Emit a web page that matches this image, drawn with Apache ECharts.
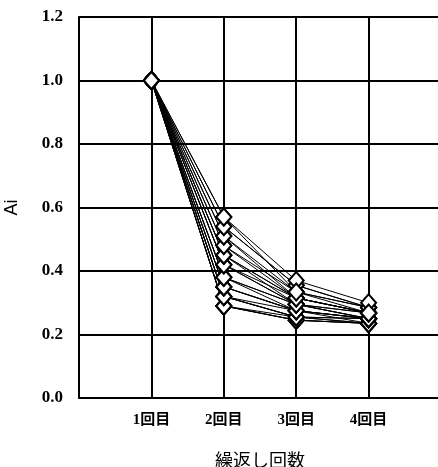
<!DOCTYPE html>
<html><head><meta charset="utf-8">
<script src="https://cdn.jsdelivr.net/npm/echarts@6/dist/echarts.min.js"></script>
<style>html,body{margin:0;padding:0;background:#fff}#c{width:438px;height:467px}</style>
</head><body><div id="c"></div>
<script>
// tick labels for the x positions 0..5
const xTickLabels = ['', '1回目', '2回目', '3回目', '4回目', ''];
const xPositions = [1, 2, 3, 4];
// values at 1回目 (all 1.0), 2回目, 3回目, 4回目 for each specimen (drawing order)
const v1 = [1.0,1.0,1.0,1.0,1.0,1.0,1.0,1.0,1.0,1.0,1.0,1.0,1.0,1.0,1.0,1.0,1.0,1.0,1.0,1.0,1.0,1.0,1.0,1.0,1.0,1.0,1.0,1.0];
const v2 = [0.29,0.29,0.29,0.29,0.32,0.32,0.32,0.32,0.35,0.35,0.35,0.38,0.38,0.38,0.42,0.42,0.42,0.45,0.45,0.45,0.48,0.48,0.51,0.51,0.54,0.54,0.57,0.57];
const v3 = [0.245,0.245,0.255,0.245,0.255,0.255,0.275,0.255,0.275,0.275,0.275,0.295,0.295,0.275,0.295,0.315,0.295,0.315,0.315,0.295,0.315,0.334,0.334,0.315,0.355,0.355,0.37,0.334];
const v4 = [0.235,0.235,0.235,0.235,0.25,0.235,0.25,0.25,0.25,0.25,0.235,0.25,0.268,0.25,0.268,0.268,0.25,0.268,0.268,0.25,0.268,0.285,0.285,0.268,0.285,0.285,0.30,0.268];
const yTicks = ['0.0','0.2','0.4','0.6','0.8','1.0','1.2'];

const series = v2.map((_, i) => ({
  type: 'line',
  data: [[xPositions[0], v1[i]], [xPositions[1], v2[i]], [xPositions[2], v3[i]], [xPositions[3], v4[i]]],
  symbol: 'diamond',
  symbolSize: [15, 17],
  itemStyle: { color: '#fff', borderColor: '#000', borderWidth: 2 },
  lineStyle: { color: '#000', width: 1 },
  emphasis: { disabled: true },
  animation: false
}));

const chart = echarts.init(document.getElementById('c'), null, { renderer: 'canvas' });
chart.setOption({
  backgroundColor: '#fff',
  animation: false,
  grid: { left: 79, top: 17, right: -3, bottom: 69, containLabel: false, outerBoundsMode: 'none' },
  xAxis: {
    type: 'value', min: 0, max: 5, interval: 1,
    name: '繰返し回数', nameLocation: 'middle', nameGap: 53,
    nameTextStyle: { fontFamily: 'Noto Sans CJK JP', fontSize: 18, lineHeight: 18, color: '#000' },
    axisLine: { show: true, lineStyle: { color: '#000', width: 2 } },
    axisTick: { show: false },
    splitLine: { show: true, lineStyle: { color: '#000', width: 2 } },
    axisLabel: {
      margin: 15, color: '#000', fontSize: 15, fontWeight: 'bold',
      fontFamily: 'Liberation Serif, Noto Sans CJK JP',
      formatter: v => xTickLabels[Math.round(v)] || ''
    }
  },
  yAxis: {
    type: 'value', min: 0, max: 1.2, interval: 0.2,
    name: 'Ai', nameLocation: 'middle', nameGap: 58,
    nameTextStyle: { fontFamily: 'Liberation Sans', fontSize: 18, color: '#000' },
    axisLine: { show: true, lineStyle: { color: '#000', width: 2 } },
    axisTick: { show: false },
    splitLine: { show: true, lineStyle: { color: '#000', width: 2 } },
    axisLabel: {
      margin: 16, color: '#000', fontSize: 17, fontWeight: 'bold',
      fontFamily: 'Liberation Serif',
      formatter: v => yTicks[Math.round(v / 0.2)]
    }
  },
  series: series
});
</script></body></html>
